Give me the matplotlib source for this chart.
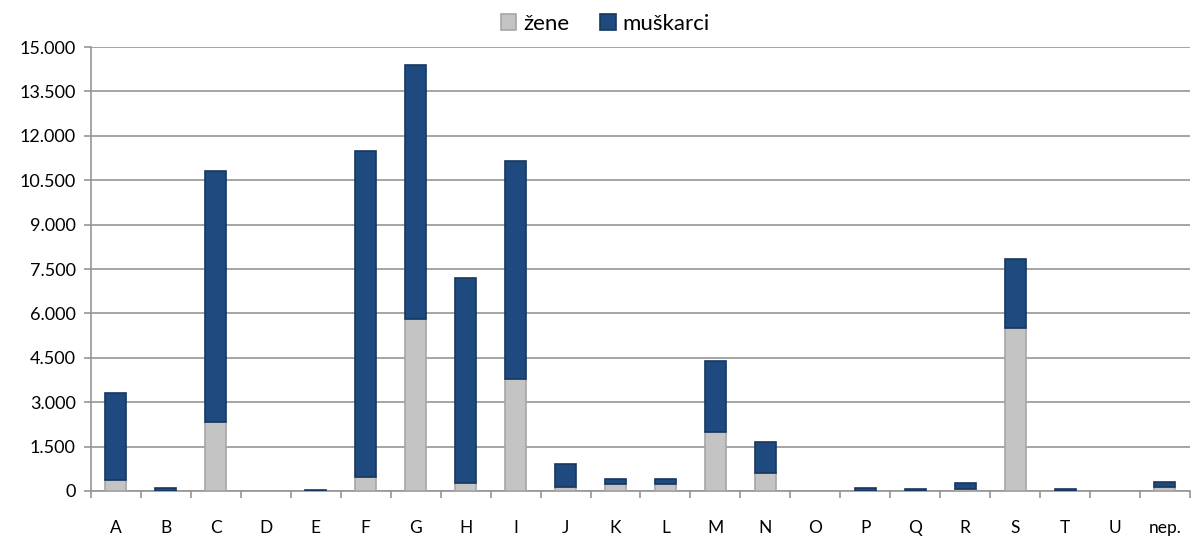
import numpy as np
import matplotlib.pyplot as plt
from matplotlib.ticker import FuncFormatter, FixedLocator

plt.rcParams['font.family'] = ['Lato', 'DejaVu Sans']

categories = ['A', 'B', 'C', 'D', 'E', 'F', 'G', 'H', 'I', 'J', 'K',
              'L', 'M', 'N', 'O', 'P', 'Q', 'R', 'S', 'T', 'U', 'nep.']
zene = [380, 10, 2330, 0, 5, 480, 5800, 270, 3800, 150, 230,
        220, 2000, 620, 0, 10, 5, 80, 5500, 5, 0, 120]
ukupno = [3300, 100, 10800, 0, 40, 11500, 14400, 7200, 11150, 920, 400,
          400, 4380, 1650, 0, 110, 50, 260, 7850, 50, 0, 290]
muskarci = [t - z for t, z in zip(ukupno, zene)]

blue = '#1f4a7f'
grey = '#c4c4c4'

fig = plt.figure(figsize=(11.94, 5.38), dpi=100)
ax = fig.add_axes([0.0762, 0.0874, 0.9204, 0.8252])

x = np.arange(len(categories))
w = 0.42
lw_z = [1.2 if v > 0 else 0 for v in zene]
lw_m = [1.2 if v > 0 else 0 for v in muskarci]
ax.bar(x, zene, w, color=grey, edgecolor='#a6a6a6', linewidth=lw_z,
       label='žene', zorder=3)
ax.bar(x, muskarci, w, bottom=zene, color=blue, edgecolor='#17375e',
       linewidth=lw_m, label='muškarci', zorder=3)

ax.set_xlim(-0.5, len(categories) - 0.5)
ax.set_ylim(0, 15000)
ax.set_yticks(np.arange(0, 15001, 1500))
ax.yaxis.set_major_formatter(FuncFormatter(lambda v, p: f'{int(v):,}'.replace(',', '.')))
ax.grid(axis='y', color='#969696', linewidth=1.2, zorder=0)

ax.xaxis.set_major_locator(FixedLocator(np.arange(-0.5, len(categories), 1.0)))
ax.xaxis.set_minor_locator(FixedLocator(x))
ax.set_xticklabels([], minor=False)
ax.set_xticklabels(categories, minor=True)
ax.tick_params(axis='x', which='major', length=5, color='#969696', width=1.2)
ax.tick_params(axis='x', which='minor', length=0, pad=21, labelsize=12.5)
ax.tick_params(axis='y', length=5, color='#969696', width=1.2, labelsize=13, pad=6)

for s in ['top', 'right']:
    ax.spines[s].set_visible(False)
ax.spines['left'].set_color('#969696')
ax.spines['left'].set_linewidth(1.2)
ax.spines['bottom'].set_color('#969696')
ax.spines['bottom'].set_linewidth(1.2)

ax.legend(loc='lower center', bbox_to_anchor=(0.468, 1.01), ncol=2, frameon=False,
          fontsize=16, handlelength=0.7, handleheight=0.7, handletextpad=0.3,
          columnspacing=1.4, borderaxespad=0)

fig.savefig('out.png', dpi=100)
